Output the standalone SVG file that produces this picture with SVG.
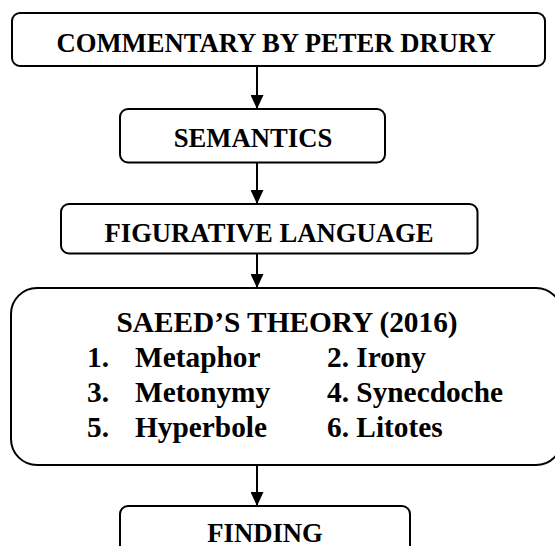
<svg xmlns="http://www.w3.org/2000/svg" width="555" height="546" viewBox="0 0 555 546">
<defs>
<style>
.box{fill:#fff;stroke:#000;stroke-width:2}
.t{font-family:"Liberation Serif","Times New Roman",serif;font-weight:bold;fill:#000}
.c{text-anchor:middle}
.conn line{stroke:#000;stroke-width:2}
</style>
<marker id="ah" viewBox="0 0 14 13" refX="14" refY="6.5" markerWidth="14" markerHeight="13" markerUnits="userSpaceOnUse" orient="auto">
<path d="M0,0 L14,6.5 L0,13 Z" fill="#000"/>
</marker>
</defs>
<rect width="555" height="546" fill="#fff"/>
<g id="n1">
<rect class="box" x="12" y="13" width="533" height="53" rx="8"/>
<text class="t c" x="276" y="52" font-size="26.67">COMMENTARY BY PETER DRURY</text>
</g>
<g id="n2">
<rect class="box" x="120" y="109" width="265" height="53.5" rx="8"/>
<text class="t c" x="253" y="147" font-size="26.67">SEMANTICS</text>
</g>
<g id="n3">
<rect class="box" x="61" y="204" width="416.5" height="49.5" rx="8"/>
<text class="t c" x="269" y="242" font-size="26.67">FIGURATIVE LANGUAGE</text>
</g>
<g id="n4">
<rect class="box" x="11" y="288" width="551" height="177" rx="26"/>
<text class="t c" x="287" y="332" font-size="29.33">SAEED’S THEORY (2016)</text>
<text class="t" x="87" y="367" font-size="29.33">1.</text>
<text class="t" x="135" y="367" font-size="29.33">Metaphor</text>
<text class="t" x="327" y="367" font-size="29.33">2. Irony</text>
<text class="t" x="87" y="402" font-size="29.33">3.</text>
<text class="t" x="135" y="402" font-size="29.33">Metonymy</text>
<text class="t" x="327" y="402" font-size="29.33">4. Synecdoche</text>
<text class="t" x="87" y="437" font-size="29.33">5.</text>
<text class="t" x="135" y="437" font-size="29.33">Hyperbole</text>
<text class="t" x="327" y="437" font-size="29.33">6. Litotes</text>
</g>
<g id="n5">
<rect class="box" x="120" y="506" width="290" height="60" rx="8"/>
<text class="t c" x="265" y="542" font-size="26.67">FINDING</text>
</g>
<g id="connectors" class="conn">
<line x1="257" y1="66" x2="257" y2="109" marker-end="url(#ah)"/>
<line x1="257" y1="162.5" x2="257" y2="204" marker-end="url(#ah)"/>
<line x1="257" y1="253.5" x2="257" y2="288" marker-end="url(#ah)"/>
<line x1="257" y1="465" x2="257" y2="506" marker-end="url(#ah)"/>
</g>
</svg>
